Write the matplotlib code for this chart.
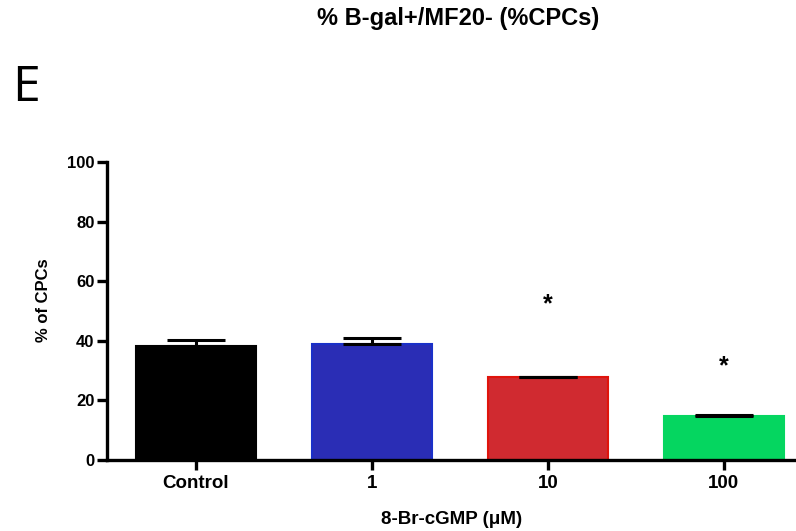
import matplotlib
matplotlib.use("Agg")
import matplotlib.pyplot as plt

categories = ["Control", "1", "10", "100"]
means = [38.3, 38.9, 27.7, 14.6]
sem = [1.9, 1.9, 0.3, 0.4]
star_y = [None, None, 52.3, 31.3]
face_colors = ["#000000", "#2a2db5", "#d02a30", "#05d660"]
edge_colors = ["#000000", "#1a30c8", "#e0140c", "#05d660"]

plt.rcParams["font.family"] = ["Liberation Sans", "DejaVu Sans"]

fig = plt.figure(figsize=(7.96, 5.31), dpi=100)
ax = fig.add_axes([107 / 796, 1 - 460 / 531, 1 - 107 / 796, (460 - 162) / 531])

x = list(range(len(categories)))
ax.bar(x, means, width=0.68, color=face_colors, edgecolor=edge_colors,
       linewidth=1.5, zorder=2)
ax.errorbar(x, means, yerr=[[0] * len(sem), sem], fmt="none", ecolor="black",
            elinewidth=2.2, capsize=21, capthick=2.2, zorder=3)

for xi, sy in zip(x, star_y):
    if sy is not None:
        ax.text(xi, sy, "*", ha="center", va="center", fontsize=18,
                fontweight="bold")

ax.set_xlim(-0.505, 3.41)
ax.set_ylim(0, 100)
ax.set_yticks([0, 20, 40, 60, 80, 100])
ax.set_xticks(x)
ax.set_xticklabels(categories)
for spine in ["top", "right"]:
    ax.spines[spine].set_visible(False)
for spine in ["left", "bottom"]:
    ax.spines[spine].set_linewidth(2.4)
ax.tick_params(axis="y", width=2.4, length=7, labelsize=12, pad=2)
ax.tick_params(axis="x", width=2.4, length=7, labelsize=13.5, pad=4)
for lab in ax.get_xticklabels() + ax.get_yticklabels():
    lab.set_fontweight("bold")

ax.set_xlabel("8-Br-cGMP (\u03bcM)", fontsize=13.5, fontweight="bold")
ax.xaxis.set_label_coords(0.5, -(520 - 460) / 298)
ax.set_ylabel("% of CPCs", fontsize=12, fontweight="bold")
ax.yaxis.set_label_coords(-(107 - 44) / 689, (460 - 300) / 298)
ax.yaxis.label.set_va("center")
ax.xaxis.label.set_va("center")

fig.text(458 / 796, 1 - 19 / 531, "% B-gal+/MF20- (%CPCs)", ha="center",
         va="center", fontsize=17, fontweight="bold")
fig.text(12 / 796, 1 - 88 / 531, "E", ha="left", va="center", fontsize=36,
         family="Open Sans")

fig.savefig("out.png", dpi=100)
